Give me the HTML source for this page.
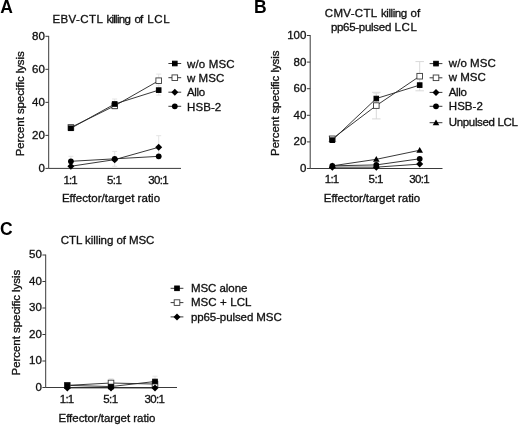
<!DOCTYPE html>
<html><head><meta charset="utf-8"><title>Figure</title>
<style>html,body{margin:0;padding:0;background:#fff}svg{display:block}
text{font-family:"Liberation Sans",sans-serif;font-size:11.5px;fill:#111;stroke:#111;stroke-width:0.32px}
text.tk{font-size:11.5px}
text.pl{font-size:17.5px;font-weight:bold;fill:#000;stroke:none}</style></head>
<body><svg width="520" height="432" viewBox="0 0 520 432">
<rect width="520" height="432" fill="#fff"/>
<text x="0.2" y="13.3" text-anchor="start" class="pl">A</text>
<text x="52.5" y="22.7" text-anchor="start" textLength="50.3" lengthAdjust="spacing">EBV-CTL</text>
<text x="106.5" y="22.7" text-anchor="start" textLength="24.3" lengthAdjust="spacing">killing</text>
<text x="134.6" y="22.7" text-anchor="start" textLength="8.6" lengthAdjust="spacing">of</text>
<text x="147.3" y="22.7" text-anchor="start" textLength="22.4" lengthAdjust="spacing">LCL</text>
<path d="M158.7 135.7V158.8M156.2 135.7h5M156.2 158.8h5" stroke="#e4e4e4" stroke-width="1" fill="none"/>
<path d="M70.9 156.3V166.3M68.4 156.3h5M68.4 166.3h5" stroke="#e4e4e4" stroke-width="1" fill="none"/>
<path d="M114.7 151.4V166.3M112.2 151.4h5M112.2 166.3h5" stroke="#e4e4e4" stroke-width="1" fill="none"/>
<path d="M114.7 102.5V109.1M112.2 102.5h5M112.2 109.1h5" stroke="#e4e4e4" stroke-width="1" fill="none"/>
<path d="M158.7 74.1V87.3M156.2 74.1h5M156.2 87.3h5" stroke="#e4e4e4" stroke-width="1" fill="none"/>
<path d="M114.7 99.0V109.0M112.2 99.0h5M112.2 109.0h5" stroke="#e4e4e4" stroke-width="1" fill="none"/>
<path d="M158.7 85.2V95.1M156.2 85.2h5M156.2 95.1h5" stroke="#e4e4e4" stroke-width="1" fill="none"/>
<path d="M48.7 35.9V168.4H181" stroke="#3a3a3a" stroke-width="1" fill="none"/>
<path d="M45.400000000000006 168.40H48.7" stroke="#3a3a3a" stroke-width="1"/>
<text x="44.9" y="171.80" text-anchor="end" class="tk">0</text>
<path d="M45.400000000000006 135.38H48.7" stroke="#3a3a3a" stroke-width="1"/>
<text x="44.9" y="138.78" text-anchor="end" class="tk">20</text>
<path d="M45.400000000000006 102.35H48.7" stroke="#3a3a3a" stroke-width="1"/>
<text x="44.9" y="105.75" text-anchor="end" class="tk">40</text>
<path d="M45.400000000000006 69.32H48.7" stroke="#3a3a3a" stroke-width="1"/>
<text x="44.9" y="72.72" text-anchor="end" class="tk">60</text>
<path d="M45.400000000000006 36.30H48.7" stroke="#3a3a3a" stroke-width="1"/>
<text x="44.9" y="39.70" text-anchor="end" class="tk">80</text>
<text x="70.60000000000001" y="183.7" text-anchor="middle" textLength="14.3" lengthAdjust="spacing" class="tk">1:1</text>
<text x="114.4" y="183.7" text-anchor="middle" textLength="15.0" lengthAdjust="spacing" class="tk">5:1</text>
<text x="158.39999999999998" y="183.7" text-anchor="middle" textLength="20.4" lengthAdjust="spacing" class="tk">30:1</text>
<text x="111" y="202.0" text-anchor="middle" textLength="98.2" lengthAdjust="spacing">Effector/target ratio</text>
<text transform="translate(24.3 103.8) rotate(-90)" text-anchor="middle" textLength="105" lengthAdjust="spacing">Percent specific lysis</text>
<polyline points="70.9,166.25 114.7,159.65 158.7,147.26" fill="none" stroke="#222" stroke-width="0.9"/>
<polyline points="70.9,161.30 114.7,158.82 158.7,156.35" fill="none" stroke="#222" stroke-width="0.9"/>
<polyline points="70.9,127.45 114.7,105.82 158.7,80.72" fill="none" stroke="#222" stroke-width="0.9"/>
<polyline points="70.9,128.27 114.7,104.00 158.7,90.13" fill="none" stroke="#222" stroke-width="0.9"/>
<path d="M67.40 166.25L70.90 162.75L74.40 166.25L70.90 169.75Z" fill="#000"/>
<path d="M111.20 159.65L114.70 156.15L118.20 159.65L114.70 163.15Z" fill="#000"/>
<path d="M155.20 147.26L158.70 143.76L162.20 147.26L158.70 150.76Z" fill="#000"/>
<circle cx="70.90" cy="161.30" r="2.9" fill="#000"/>
<circle cx="114.70" cy="158.82" r="2.9" fill="#000"/>
<circle cx="158.70" cy="156.35" r="2.9" fill="#000"/>
<rect x="68.10" y="124.65" width="5.60" height="5.60" fill="#fff" stroke="#3a3a3a" stroke-width="0.9"/>
<rect x="111.90" y="103.02" width="5.60" height="5.60" fill="#fff" stroke="#3a3a3a" stroke-width="0.9"/>
<rect x="155.90" y="77.92" width="5.60" height="5.60" fill="#fff" stroke="#3a3a3a" stroke-width="0.9"/>
<rect x="68.60" y="125.97" width="4.60" height="4.60" fill="#000" stroke="#000" stroke-width="1"/>
<rect x="112.40" y="101.70" width="4.60" height="4.60" fill="#000" stroke="#000" stroke-width="1"/>
<rect x="156.40" y="87.83" width="4.60" height="4.60" fill="#000" stroke="#000" stroke-width="1"/>
<path d="M168.4 63.5h12.8" stroke="#222" stroke-width="0.9"/>
<rect x="172.50" y="61.20" width="4.60" height="4.60" fill="#000" stroke="#000" stroke-width="1"/>
<text x="187.0" y="67.7" text-anchor="start" textLength="47.5" lengthAdjust="spacing">w/o MSC</text>
<path d="M168.4 77.7h12.8" stroke="#222" stroke-width="0.9"/>
<rect x="172.00" y="74.90" width="5.60" height="5.60" fill="#fff" stroke="#3a3a3a" stroke-width="0.9"/>
<text x="187.0" y="81.9" text-anchor="start" textLength="37.3" lengthAdjust="spacing">w MSC</text>
<path d="M168.4 92.2h12.8" stroke="#222" stroke-width="0.9"/>
<path d="M171.30 92.20L174.80 88.70L178.30 92.20L174.80 95.70Z" fill="#000"/>
<text x="187.0" y="96.4" text-anchor="start" textLength="18.2" lengthAdjust="spacing">Allo</text>
<path d="M168.4 106.3h12.8" stroke="#222" stroke-width="0.9"/>
<circle cx="174.80" cy="106.30" r="2.9" fill="#000"/>
<text x="187.0" y="110.5" text-anchor="start" textLength="34.2" lengthAdjust="spacing">HSB-2</text>
<text x="254.0" y="13.1" text-anchor="start" class="pl">B</text>
<text x="324.8" y="17.4" text-anchor="start" textLength="52.4" lengthAdjust="spacing">CMV-CTL</text>
<text x="381.0" y="17.4" text-anchor="start" textLength="26.2" lengthAdjust="spacing">killing</text>
<text x="410.4" y="17.4" text-anchor="start" textLength="9.8" lengthAdjust="spacing">of</text>
<text x="330.9" y="30.9" text-anchor="start" textLength="60.4" lengthAdjust="spacing">pp65-pulsed</text>
<text x="394.6" y="30.9" text-anchor="start" textLength="22.2" lengthAdjust="spacing">LCL</text>
<path d="M332.3 136.2V141.5M328.05 136.2h8.5M328.05 141.5h8.5" stroke="#d9d9d9" stroke-width="1" fill="none"/>
<path d="M376.3 92.3V118.9M372.05 92.3h8.5M372.05 118.9h8.5" stroke="#d9d9d9" stroke-width="1" fill="none"/>
<path d="M419.7 61.6V90.8M415.45 61.6h8.5M415.45 90.8h8.5" stroke="#d9d9d9" stroke-width="1" fill="none"/>
<path d="M376.3 93.2V103.9M373.3 93.2h6M373.3 103.9h6" stroke="#e0e0e0" stroke-width="1" fill="none"/>
<path d="M310.2 35.1V168.5H442.5" stroke="#3a3a3a" stroke-width="1" fill="none"/>
<path d="M306.9 168.50H310.2" stroke="#3a3a3a" stroke-width="1"/>
<text x="306.4" y="171.90" text-anchor="end" class="tk">0</text>
<path d="M306.9 141.90H310.2" stroke="#3a3a3a" stroke-width="1"/>
<text x="306.4" y="145.30" text-anchor="end" class="tk">20</text>
<path d="M306.9 115.30H310.2" stroke="#3a3a3a" stroke-width="1"/>
<text x="306.4" y="118.70" text-anchor="end" class="tk">40</text>
<path d="M306.9 88.70H310.2" stroke="#3a3a3a" stroke-width="1"/>
<text x="306.4" y="92.10" text-anchor="end" class="tk">60</text>
<path d="M306.9 62.10H310.2" stroke="#3a3a3a" stroke-width="1"/>
<text x="306.4" y="65.50" text-anchor="end" class="tk">80</text>
<path d="M306.9 35.50H310.2" stroke="#3a3a3a" stroke-width="1"/>
<text x="306.4" y="38.90" text-anchor="end" class="tk">100</text>
<text x="332.0" y="183.0" text-anchor="middle" textLength="14.3" lengthAdjust="spacing" class="tk">1:1</text>
<text x="376.0" y="183.0" text-anchor="middle" textLength="15.0" lengthAdjust="spacing" class="tk">5:1</text>
<text x="419.4" y="183.0" text-anchor="middle" textLength="20.4" lengthAdjust="spacing" class="tk">30:1</text>
<text x="372" y="202.0" text-anchor="middle" textLength="96.3" lengthAdjust="spacing">Effector/target ratio</text>
<text transform="translate(279.1 103.2) rotate(-90)" text-anchor="middle" textLength="105.5" lengthAdjust="spacing">Percent specific lysis</text>
<polyline points="332.3,165.84 376.3,159.32 419.7,150.28" fill="none" stroke="#222" stroke-width="0.9"/>
<polyline points="332.3,165.84 376.3,164.91 419.7,158.79" fill="none" stroke="#222" stroke-width="0.9"/>
<polyline points="332.3,167.17 376.3,167.17 419.7,164.11" fill="none" stroke="#222" stroke-width="0.9"/>
<polyline points="332.3,138.84 376.3,105.59 419.7,76.20" fill="none" stroke="#222" stroke-width="0.9"/>
<polyline points="332.3,140.17 376.3,98.54 419.7,85.11" fill="none" stroke="#222" stroke-width="0.9"/>
<path d="M329.00 168.31L332.30 162.54L335.60 168.31Z" fill="#000"/>
<path d="M373.00 161.80L376.30 156.02L379.60 161.80Z" fill="#000"/>
<path d="M416.40 152.75L419.70 146.98L423.00 152.75Z" fill="#000"/>
<circle cx="332.30" cy="165.84" r="2.9" fill="#000"/>
<circle cx="376.30" cy="164.91" r="2.9" fill="#000"/>
<circle cx="419.70" cy="158.79" r="2.9" fill="#000"/>
<path d="M328.80 167.17L332.30 163.67L335.80 167.17L332.30 170.67Z" fill="#000"/>
<path d="M372.80 167.17L376.30 163.67L379.80 167.17L376.30 170.67Z" fill="#000"/>
<path d="M416.20 164.11L419.70 160.61L423.20 164.11L419.70 167.61Z" fill="#000"/>
<rect x="329.50" y="136.04" width="5.60" height="5.60" fill="#fff" stroke="#3a3a3a" stroke-width="0.9"/>
<rect x="373.50" y="102.79" width="5.60" height="5.60" fill="#fff" stroke="#3a3a3a" stroke-width="0.9"/>
<rect x="416.90" y="73.40" width="5.60" height="5.60" fill="#fff" stroke="#3a3a3a" stroke-width="0.9"/>
<rect x="330.00" y="137.87" width="4.60" height="4.60" fill="#000" stroke="#000" stroke-width="1"/>
<rect x="374.00" y="96.24" width="4.60" height="4.60" fill="#000" stroke="#000" stroke-width="1"/>
<rect x="417.40" y="82.81" width="4.60" height="4.60" fill="#000" stroke="#000" stroke-width="1"/>
<path d="M429.6 63.6h12.8" stroke="#222" stroke-width="0.9"/>
<rect x="433.70" y="61.30" width="4.60" height="4.60" fill="#000" stroke="#000" stroke-width="1"/>
<text x="448.8" y="67.2" text-anchor="start" textLength="47" lengthAdjust="spacing">w/o MSC</text>
<path d="M429.6 77.8h12.8" stroke="#222" stroke-width="0.9"/>
<rect x="433.20" y="75.00" width="5.60" height="5.60" fill="#fff" stroke="#3a3a3a" stroke-width="0.9"/>
<text x="448.8" y="81.4" text-anchor="start" textLength="37" lengthAdjust="spacing">w MSC</text>
<path d="M429.6 92.4h12.8" stroke="#222" stroke-width="0.9"/>
<path d="M432.50 92.40L436.00 88.90L439.50 92.40L436.00 95.90Z" fill="#000"/>
<text x="448.8" y="96.0" text-anchor="start" textLength="18" lengthAdjust="spacing">Allo</text>
<path d="M429.6 106.3h12.8" stroke="#222" stroke-width="0.9"/>
<circle cx="436.00" cy="106.30" r="2.9" fill="#000"/>
<text x="448.8" y="109.9" text-anchor="start" textLength="34" lengthAdjust="spacing">HSB-2</text>
<path d="M429.6 122.7h12.8" stroke="#222" stroke-width="0.9"/>
<path d="M432.70 125.17L436.00 119.40L439.30 125.17Z" fill="#000"/>
<text x="448.8" y="126.3" text-anchor="start" textLength="69" lengthAdjust="spacing">Unpulsed LCL</text>
<text x="0.0" y="235.0" text-anchor="start" class="pl">C</text>
<text x="107.6" y="243.6" text-anchor="middle" textLength="93.6" lengthAdjust="spacing">CTL killing of MSC</text>
<path d="M111.0 378.8V387.2M108.5 378.8h5M108.5 387.2h5" stroke="#e4e4e4" stroke-width="1" fill="none"/>
<path d="M155.0 376.2V386.8M152.5 376.2h5M152.5 386.8h5" stroke="#e4e4e4" stroke-width="1" fill="none"/>
<path d="M45.7 254.6V387.5H177" stroke="#3a3a3a" stroke-width="1" fill="none"/>
<path d="M42.400000000000006 387.50H45.7" stroke="#3a3a3a" stroke-width="1"/>
<text x="41.9" y="390.90" text-anchor="end" class="tk">0</text>
<path d="M42.400000000000006 361.00H45.7" stroke="#3a3a3a" stroke-width="1"/>
<text x="41.9" y="364.40" text-anchor="end" class="tk">10</text>
<path d="M42.400000000000006 334.50H45.7" stroke="#3a3a3a" stroke-width="1"/>
<text x="41.9" y="337.90" text-anchor="end" class="tk">20</text>
<path d="M42.400000000000006 308.00H45.7" stroke="#3a3a3a" stroke-width="1"/>
<text x="41.9" y="311.40" text-anchor="end" class="tk">30</text>
<path d="M42.400000000000006 281.50H45.7" stroke="#3a3a3a" stroke-width="1"/>
<text x="41.9" y="284.90" text-anchor="end" class="tk">40</text>
<path d="M42.400000000000006 255.00H45.7" stroke="#3a3a3a" stroke-width="1"/>
<text x="41.9" y="258.40" text-anchor="end" class="tk">50</text>
<text x="67.0" y="402.8" text-anchor="middle" textLength="14.3" lengthAdjust="spacing" class="tk">1:1</text>
<text x="110.7" y="402.8" text-anchor="middle" textLength="15.0" lengthAdjust="spacing" class="tk">5:1</text>
<text x="154.7" y="402.8" text-anchor="middle" textLength="20.4" lengthAdjust="spacing" class="tk">30:1</text>
<text x="107.0" y="421.5" text-anchor="middle" textLength="97" lengthAdjust="spacing">Effector/target ratio</text>
<text transform="translate(19.8 322.6) rotate(-90)" text-anchor="middle" textLength="105.7" lengthAdjust="spacing">Percent specific lysis</text>
<polyline points="67.3,385.38 111.0,383.00 155.0,384.06" fill="none" stroke="#222" stroke-width="0.9"/>
<polyline points="67.3,385.38 111.0,386.57 155.0,381.51" fill="none" stroke="#222" stroke-width="0.9"/>
<polyline points="67.3,387.90 111.0,387.90 155.0,388.03" fill="none" stroke="#222" stroke-width="0.9"/>
<rect x="64.50" y="382.58" width="5.60" height="5.60" fill="#fff" stroke="#3a3a3a" stroke-width="0.9"/>
<rect x="108.20" y="380.19" width="5.60" height="5.60" fill="#fff" stroke="#3a3a3a" stroke-width="0.9"/>
<rect x="152.20" y="381.25" width="5.60" height="5.60" fill="#fff" stroke="#3a3a3a" stroke-width="0.9"/>
<rect x="65.00" y="383.08" width="4.60" height="4.60" fill="#000" stroke="#000" stroke-width="1"/>
<rect x="108.70" y="384.27" width="4.60" height="4.60" fill="#000" stroke="#000" stroke-width="1"/>
<rect x="152.70" y="379.21" width="4.60" height="4.60" fill="#000" stroke="#000" stroke-width="1"/>
<path d="M63.80 387.90L67.30 384.40L70.80 387.90L67.30 391.40Z" fill="#000"/>
<path d="M107.50 387.90L111.00 384.40L114.50 387.90L111.00 391.40Z" fill="#000"/>
<path d="M151.50 388.03L155.00 384.53L158.50 388.03L155.00 391.53Z" fill="#000"/>
<path d="M170.6 288.3h12.8" stroke="#222" stroke-width="0.9"/>
<rect x="174.70" y="286.00" width="4.60" height="4.60" fill="#000" stroke="#000" stroke-width="1"/>
<text x="190.9" y="291.9" text-anchor="start" textLength="56.5" lengthAdjust="spacing">MSC alone</text>
<path d="M170.6 302.6h12.8" stroke="#222" stroke-width="0.9"/>
<rect x="174.20" y="299.80" width="5.60" height="5.60" fill="#fff" stroke="#3a3a3a" stroke-width="0.9"/>
<text x="190.9" y="306.2" text-anchor="start" textLength="60.6" lengthAdjust="spacing">MSC + LCL</text>
<path d="M170.6 316.9h12.8" stroke="#222" stroke-width="0.9"/>
<path d="M173.50 316.90L177.00 313.40L180.50 316.90L177.00 320.40Z" fill="#000"/>
<text x="190.9" y="320.5" text-anchor="start" textLength="90.8" lengthAdjust="spacing">pp65-pulsed MSC</text>
</svg></body></html>
